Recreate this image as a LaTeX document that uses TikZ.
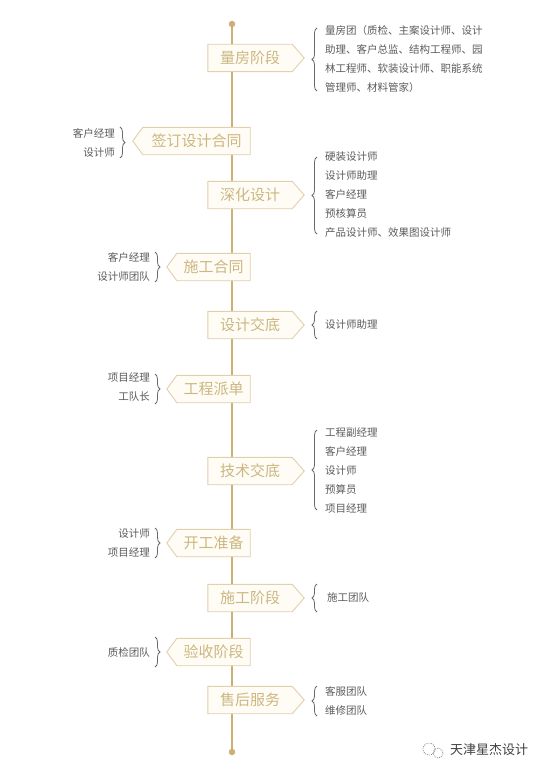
\documentclass[tikz,border=0pt]{standalone}
\usepackage{fontspec}
\setmainfont{Noto Sans CJK SC}
\usetikzlibrary{decorations.pathreplacing}
\definecolor{gold}{RGB}{206,176,116}
\definecolor{boxline}{RGB}{224,208,172}
\definecolor{boxfill}{RGB}{254,252,245}
\definecolor{stagetxt}{RGB}{204,183,128}
\definecolor{sidetxt}{RGB}{92,92,92}
\definecolor{bracecol}{RGB}{105,105,105}
\pgfdeclarelayer{bg}
\pgfdeclarelayer{mid}
\pgfsetlayers{bg,mid,main}
\begin{document}
\begin{tikzpicture}[x=1pt,y=1pt,
  stagetext/.style={inner sep=0pt, minimum height=27pt, text=stagetxt, font=\fontsize{15}{15}\selectfont},
  rbox/.style={stagetext, minimum width=84pt},
  lbox/.style={stagetext, minimum width=73pt},
  boxshape/.style={draw=boxline, fill=boxfill, line width=0.9pt},
  sidelist/.style={inner sep=0pt, text=sidetxt, font=\fontsize{10.5}{19}\selectfont},
  bracestyle/.style={draw=bracecol, line width=0.8pt, decorate, decoration={brace, amplitude=5pt}},
  dotnode/.style={circle, fill=gold, inner sep=0pt, minimum size=6.5pt}]
\useasboundingbox (0,0) rectangle (550,-776);
\begin{pgfonlayer}{bg}
  \fill[white] (0,0) rectangle (550,-776);
\end{pgfonlayer}

% main line end dots
\node[dotnode] (top) at (232,-24) {};
\node[dotnode] (bot) at (232,-752) {};

% stage boxes
\node[rbox] (s1) at (250,-58) {量房阶段};
\node[stagetext, minimum width=107pt] (s2) at (196.5,-141) {签订设计合同};
\node[rbox] (s3) at (250,-195) {深化设计};
\node[lbox] (s4) at (213.5,-267) {施工合同};
\node[rbox] (s5) at (250,-325) {设计交底};
\node[lbox] (s6) at (213.5,-389) {工程派单};
\node[rbox] (s7) at (250,-471) {技术交底};
\node[lbox] (s8) at (213.5,-543) {开工准备};
\node[rbox] (s9) at (250,-598) {施工阶段};
\node[lbox] (s10) at (213.5,-652) {验收阶段};
\node[rbox] (s11) at (250,-700) {售后服务};

\begin{pgfonlayer}{bg}
  \draw[gold, line width=1.1pt] (top) -- (bot);
\end{pgfonlayer}
\begin{pgfonlayer}{mid}
  \foreach \n in {s1,s3,s5,s7,s9,s11}
    \draw[boxshape] (\n.north west) -- (\n.north east) -- ([xshift=12pt]\n.east) -- (\n.south east) -- (\n.south west) -- cycle;
  \foreach \n in {s2,s4,s6,s8,s10}
    \draw[boxshape] (\n.north east) -- (\n.north west) -- ([xshift=-10pt]\n.west) -- (\n.south west) -- (\n.south east) -- cycle;
\end{pgfonlayer}

% right-hand lists
\node[sidelist, anchor=west, align=left] (r1) at (325,-59.5) {量房团（质检、主案设计师、设计\\助理、客户总监、结构工程师、园\\林工程师、软装设计师、职能系统\\管理师、材料管家）};
\draw[bracestyle] (317,-91) -- (317,-28);
\node[sidelist, anchor=west, align=left] (r3) at (325,-195) {硬装设计师\\设计师助理\\客户经理\\预核算员\\产品设计师、效果图设计师};
\draw[bracestyle] (317,-234) -- (317,-157);
\node[sidelist, anchor=west] (r5) at (325,-325) {设计师助理};
\draw[bracestyle] (317,-339) -- (317,-311);
\node[sidelist, anchor=west, align=left] (r7) at (325,-470) {工程副经理\\客户经理\\设计师\\预算员\\项目经理};
\draw[bracestyle] (317,-510) -- (317,-430);
\node[sidelist, anchor=west] (r9) at (327,-598) {施工团队};
\draw[bracestyle] (317,-612) -- (317,-584);
\node[sidelist, anchor=west, align=left] (r11) at (325,-700.5) {客服团队\\维修团队};
\draw[bracestyle] (317,-716) -- (317,-686);

% left-hand lists
\node[sidelist, anchor=east, align=right] (l2) at (115,-142.5) {客户经理\\设计师};
\draw[bracestyle] (120,-127) -- (120,-158);
\node[sidelist, anchor=east, align=right] (l4) at (150,-267) {客户经理\\设计师团队};
\draw[bracestyle] (155,-252) -- (155,-282);
\node[sidelist, anchor=east, align=right] (l6) at (150,-387.5) {项目经理\\工队长};
\draw[bracestyle] (155,-374) -- (155,-404);
\node[sidelist, anchor=east, align=right] (l8) at (150,-543) {设计师\\项目经理};
\draw[bracestyle] (155,-528) -- (155,-558);
\node[sidelist, anchor=east] (l10) at (150,-652) {质检团队};
\draw[bracestyle] (155,-637) -- (155,-667);

% logo
\draw[gray, line width=0.6pt, dash pattern=on 1pt off 1pt] (429,-749) circle (6pt);
\draw[gray, line width=0.6pt, dash pattern=on 1pt off 1pt] (438,-753) circle (5pt);
\node[inner sep=0pt, anchor=west, text=black!75, font=\fontsize{13}{13}\selectfont] (logo) at (450,-750) {天津星杰设计};
\end{tikzpicture}
\end{document}
